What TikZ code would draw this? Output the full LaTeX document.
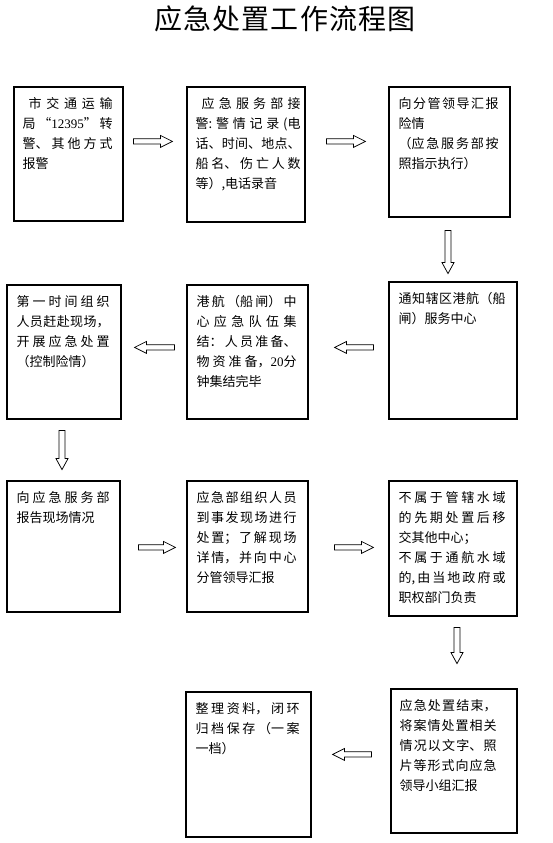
\documentclass[tikz,border=0pt]{standalone}
\usepackage{fontspec}
\newfontfamily\cjk{Noto Sans CJK SC}
\newfontfamily\tnr{Liberation Serif}
\usetikzlibrary{calc}
\XeTeXlinebreaklocale "zh"
\XeTeXlinebreakskip=0pt plus 8pt minus 0.3pt
\tolerance=9999
\hbadness=10000
\hfuzz=4pt
\newcommand\boxfont{\cjk\fontsize{13}{20}\selectfont}
\newcommand\flowbox[8]{%
  \node[flowrect, minimum width={(#4-#2)*1pt}, minimum height={(#5-#3)*1pt}] (#1) at ({(#2+#4)/2},{(#3+#5)/2}) {};
  \node[flowtext] (#1t) at ([xshift=#6pt,yshift=-8pt]#1.north west) {\parbox[t]{#7pt}{\boxfont\rule{0pt}{14pt}#8}};
}
\newcommand\rarrow[2]{\draw[blockarr] let \p1=(#1), \p2=(#2) in
  (\x1,\y1+2.7pt) -- (\x2-12pt,\y1+2.7pt) -- (\x2-12pt,\y1+6pt) -- (\x2,\y1) -- (\x2-12pt,\y1-6pt) -- (\x2-12pt,\y1-2.7pt) -- (\x1,\y1-2.7pt) -- cycle;}
\newcommand\larrow[2]{\draw[blockarr] let \p1=(#1), \p2=(#2) in
  (\x1,\y1+2.7pt) -- (\x2+12pt,\y1+2.7pt) -- (\x2+12pt,\y1+6pt) -- (\x2,\y1) -- (\x2+12pt,\y1-6pt) -- (\x2+12pt,\y1-2.7pt) -- (\x1,\y1-2.7pt) -- cycle;}
\newcommand\darrow[2]{\draw[blockarr] let \p1=(#1), \p2=(#2) in
  (\x1-3pt,\y1) -- (\x1-3pt,\y2+11pt) -- (\x1-6pt,\y2+11pt) -- (\x1,\y2) -- (\x1+6pt,\y2+11pt) -- (\x1+3pt,\y2+11pt) -- (\x1+3pt,\y1) -- cycle;}
\tikzset{
  flowrect/.style={draw=black, line width=1.2pt, inner sep=0pt, fill=white},
  flowtext/.style={anchor=north west, inner sep=0pt},
  blockarr/.style={draw=black, line width=0.75pt, fill=white},
  titlestyle/.style={anchor=base, inner sep=0pt, font={\cjk\fontsize{28}{32}\selectfont\addfontfeatures{LetterSpace=4}}}
}
\begin{document}
\begin{tikzpicture}[x=1pt,y=-1pt]
\fill[white] (0,0) rectangle (553,843);
\useasboundingbox (0,0) rectangle (553,843);

\node[titlestyle] (title) at (285,30) {应急处置工作流程图};

% row 1
\flowbox{A}{14}{87}{123}{221}{9}{90}{\hspace*{6pt}市交通运输\linebreak 局“{\tnr 12395}”转\linebreak 警、其他方式\linebreak 报警}
\flowbox{B}{187}{87}{305}{222}{9}{105}{\hspace*{6pt}应急服务部接\linebreak 警:警情记录(电\linebreak 话、时间、地点、\linebreak 船名、伤亡人数\linebreak 等）,电话录音}
\flowbox{C}{389}{87}{510}{217}{10}{100}{向分管领导汇报\linebreak 险情\par （应急服务部按\linebreak 照指示执行）}

% row 2
\flowbox{D}{7}{285}{121}{419}{10}{93}{第一时间组织\linebreak 人员赶赴现场，\linebreak 开展应急处置\linebreak （控制险情）}
\flowbox{E}{187}{285}{308}{419}{10}{100}{港航（船闸）中\linebreak 心应急队伍集\linebreak 结：人员准备、\linebreak 物资准备，{\tnr 20}分\linebreak 钟集结完毕}
\flowbox{F}{389}{282}{517}{419}{10}{107}{通知辖区港航（船\linebreak 闸）服务中心}

% row 3
\flowbox{G}{7}{481}{120}{612}{10}{93}{向应急服务部\linebreak 报告现场情况}
\flowbox{H}{187}{481}{308}{612}{10}{100}{应急部组织人员\linebreak 到事发现场进行\linebreak 处置；了解现场\linebreak 详情，并向中心\linebreak 分管领导汇报}
\flowbox{I}{389}{481}{517}{616}{10}{107}{不属于管辖水域\linebreak 的先期处置后移\linebreak 交其他中心；\par 不属于通航水域\linebreak 的,由当地政府或\linebreak 职权部门负责}

% row 4
\flowbox{J}{391}{689}{517}{833}{9}{97}{应急处置结束，\linebreak 将案情处置相关\linebreak 情况以文字、照\linebreak 片等形式向应急\linebreak 领导小组汇报}
\flowbox{K}{186}{692}{311}{837}{10}{104}{整理资料，闭环\linebreak 归档保存（一案\linebreak 一档）}

% connector end points
\coordinate (a1s) at ([xshift=10pt,yshift=-55pt]A.north east);
\coordinate (a1e) at ([xshift=-14pt,yshift=-55pt]B.north west);
\coordinate (a2s) at ([xshift=21pt,yshift=-55pt]B.north east);
\coordinate (a2e) at ([xshift=-23pt,yshift=-55pt]C.north west);
\coordinate (d1s) at ([xshift=-1.5pt,yshift=-13pt]C.south);
\coordinate (d1e) at ([xshift=-1.5pt,yshift=-56pt]C.south);
\coordinate (a3s) at ([xshift=-15pt,yshift=-66pt]F.north west);
\coordinate (a3e) at ([xshift=26pt,yshift=-63pt]E.north east);
\coordinate (a4s) at ([xshift=-12pt,yshift=-63pt]E.north west);
\coordinate (a4e) at ([xshift=13pt,yshift=-63pt]D.north east);
\coordinate (d2s) at ([xshift=-2pt,yshift=-11pt]D.south);
\coordinate (d2e) at ([xshift=-2pt,yshift=-50pt]D.south);
\coordinate (a5s) at ([xshift=18pt,yshift=-67pt]G.north east);
\coordinate (a5e) at ([xshift=-11pt,yshift=-67pt]H.north west);
\coordinate (a6s) at ([xshift=26pt,yshift=-67pt]H.north east);
\coordinate (a6e) at ([xshift=-15pt,yshift=-67pt]I.north west);
\coordinate (d3s) at ([xshift=4pt,yshift=-11pt]I.south);
\coordinate (d3e) at ([xshift=4pt,yshift=-47pt]I.south);
\coordinate (a7s) at ([xshift=-19pt,yshift=-66pt]J.north west);
\coordinate (a7e) at ([xshift=21pt,yshift=-63pt]K.north east);

\rarrow{a1s}{a1e}
\rarrow{a2s}{a2e}
\darrow{d1s}{d1e}
\larrow{a3s}{a3e}
\larrow{a4s}{a4e}
\darrow{d2s}{d2e}
\rarrow{a5s}{a5e}
\rarrow{a6s}{a6e}
\darrow{d3s}{d3e}
\larrow{a7s}{a7e}
\end{tikzpicture}
\end{document}
